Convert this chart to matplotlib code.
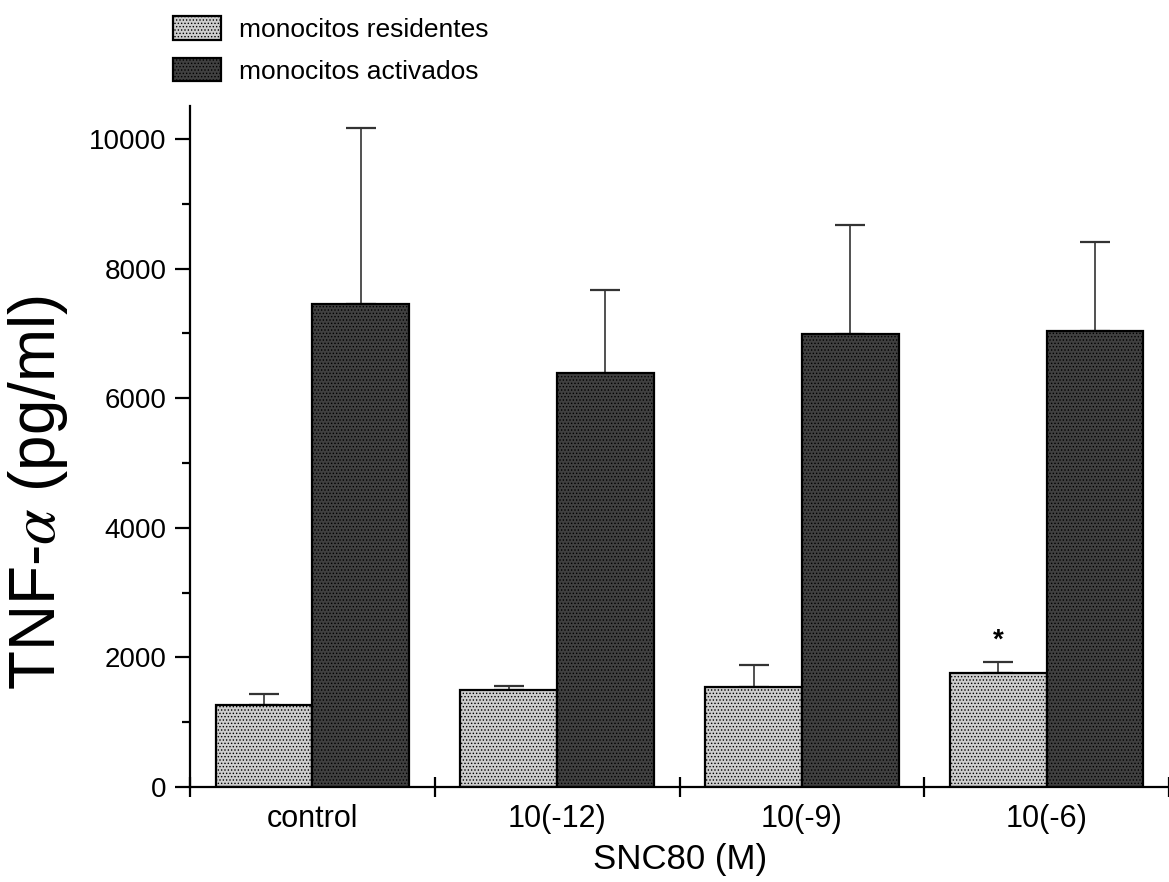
import matplotlib
matplotlib.use("Agg")
import matplotlib.pyplot as plt
import numpy as np

# valores (pg/ml)
categorias = ["control", "10(-12)", "10(-9)", "10(-6)"]
residentes = [1265, 1497, 1543, 1759]
residentes_err = [170, 60, 340, 170]
activados = [7454, 6389, 6991, 7037]
activados_err = [2716, 1280, 1680, 1375]
marcas = ["", "", "", "*"]

plt.rcParams['font.family'] = ['Liberation Sans', 'DejaVu Sans']
plt.rcParams['mathtext.fontset'] = 'stix'
plt.rcParams['hatch.linewidth'] = 0.6

fig = plt.figure(figsize=(11.69, 8.82), dpi=100)
ax = fig.add_axes([190 / 1169, 1 - 787 / 882, 1 - 190 / 1169, (787 - 106) / 882])

x = np.arange(len(categorias))
ancho = 0.395
ax.bar(x - ancho / 2, residentes, ancho, color='#cdcdcd', edgecolor='black',
       linewidth=1.6, hatch='.....', label='monocitos residentes', zorder=2)
ax.bar(x + ancho / 2, activados, ancho, color='#404040', edgecolor='black',
       linewidth=1.6, hatch='.....', label='monocitos activados', zorder=2)

ax.errorbar(x - ancho / 2, residentes, yerr=[np.zeros(4), residentes_err], fmt='none',
            ecolor='#333333', elinewidth=1.2, capsize=10.5, capthick=1.6, zorder=1)
ax.errorbar(x + ancho / 2, activados, yerr=[np.zeros(4), activados_err], fmt='none',
            ecolor='#333333', elinewidth=1.2, capsize=10.5, capthick=1.6, zorder=1)

for i, m in enumerate(marcas):
    if m:
        ax.text(x[i] - ancho / 2, residentes[i] + residentes_err[i] + 330, m,
                ha='center', va='center', fontsize=20, fontweight='bold')

ax.set_xlim(-0.5, 3.5)
ax.set_ylim(0, 10509)
ax.spines['top'].set_visible(False)
ax.spines['right'].set_visible(False)
ax.spines['left'].set_linewidth(1.6)
ax.spines['bottom'].set_linewidth(1.6)

ax.set_yticks(np.arange(0, 10001, 2000))
ax.set_yticks(np.arange(1000, 10000, 2000), minor=True)
ax.tick_params(axis='y', which='major', length=11, width=1.6, labelsize=20, pad=6)
ax.tick_params(axis='y', which='minor', length=5.5, width=1.6)

ax.set_xticks([-0.5, 0.5, 1.5, 2.5, 3.5])
ax.set_xticklabels([])
ax.set_xticks(x, minor=True)
ax.set_xticklabels(categorias, minor=True, fontsize=22)
ax.tick_params(axis='x', which='major', direction='inout', length=14, width=1.6)
ax.tick_params(axis='x', which='minor', length=0, pad=12)

fig.text(680 / 1169, 1 - 860 / 882, 'SNC80 (M)', ha='center', va='center', fontsize=25)
fig.text(38 / 1169, 1 - 492 / 882, r'TNF-$\alpha$ (pg/ml)', rotation=90,
         ha='center', va='center', fontsize=46)

fig.legend(loc='upper left', bbox_to_anchor=(173 / 1169, 1 - 16 / 882), frameon=False,
           fontsize=19, handlelength=1.8, handleheight=1.0, handletextpad=0.7,
           labelspacing=0.6, borderpad=0, borderaxespad=0)

fig.savefig('out.png', dpi=100)
